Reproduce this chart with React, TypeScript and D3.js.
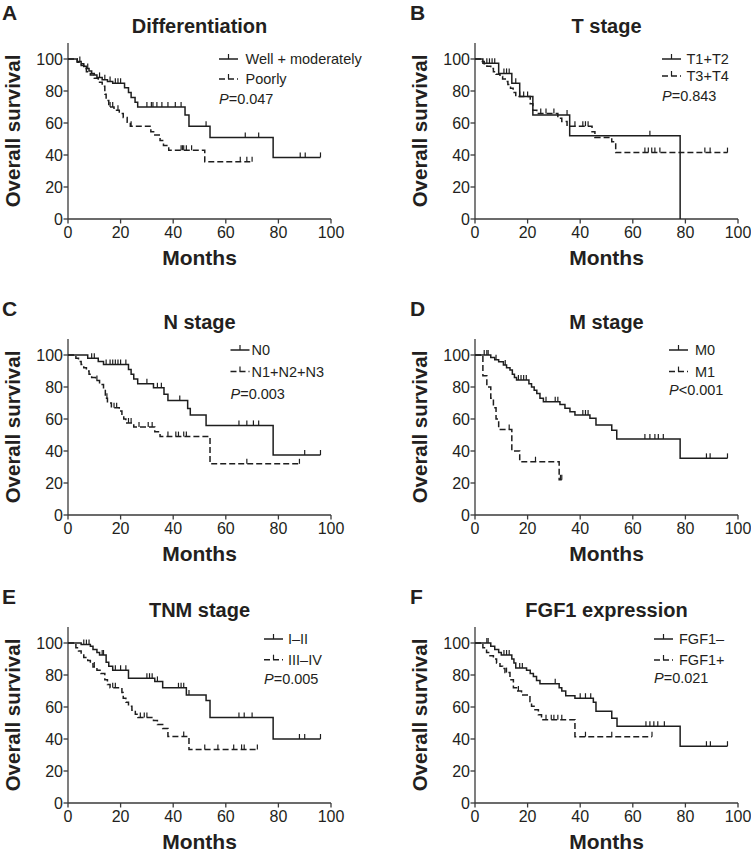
import React from 'react';
import * as d3 from 'd3';

type Step = [number, number]; // [months, survival % after the drop]

// A – Differentiation
const diffWellEvents: Step[] = [
    [3.5, 98.5], [5, 97], [6, 95.5], [7, 94], [8, 92.5], [9, 91], [10, 90], [11, 88.5],
    [13, 87], [15, 86], [17, 84.8], [21.5, 82], [23, 79], [24, 76], [25.5, 73], [26.5, 70],
    [44.5, 65], [46, 58], [54, 51], [78, 38.5],
];
const diffWellCensored = [4.5, 7.5, 12, 14, 16, 18, 19, 20, 30, 31.7, 32.3, 33.8, 35.7, 38, 40.8, 43, 52.5, 67.4, 72.5, 88.3, 90.2, 96];
const diffPoorEvents: Step[] = [
    [3.5, 98], [5, 96], [6, 94], [7, 92], [8.5, 90], [10, 88], [11.5, 85.5], [13, 83],
    [14, 78], [14.5, 74], [15.5, 70], [17.5, 68], [19.5, 66], [21, 63.5], [22.5, 60.5], [23.7, 58],
    [31.5, 54.6], [33, 52.5], [35, 49], [36.3, 46], [38.3, 43], [52, 35.8],
];
const diffPoorCensored = [16, 17, 19, 24, 43, 43.5, 44, 45, 47, 65.5, 68, 70];

// B – T stage
const tLowEvents: Step[] = [[3, 97.3], [9, 91], [14, 84.8], [17, 76.5], [22, 65], [36, 52], [78, 0]];
const tLowCensored = [4.5, 5.5, 6.5, 7.5, 11, 12, 13, 15.5, 35, 66.5];
const tHighEvents: Step[] = [
    [2.5, 98.5], [3.5, 97], [4.5, 95.5], [6, 94], [7, 92], [8, 90.5], [9.5, 89], [10.5, 87.5],
    [11.5, 86], [12.5, 84], [13.5, 81.7], [14.5, 79], [15.5, 76.5], [21, 72], [22, 68], [23.5, 66],
    [31.5, 63], [33, 61], [35, 58], [44.5, 54.6], [45.6, 51], [52, 48.3], [53.5, 41.5],
];
const tHighCensored = [17, 18.5, 20, 25, 27, 30, 38, 41, 42, 43, 64.6, 65.9, 67.2, 68.4, 70.3, 87.4, 89.4, 96];

// C – N stage
const n0Events: Step[] = [
    [7.5, 98], [11.5, 96], [13.5, 94], [23, 91], [24, 88], [25, 85], [26.5, 82], [32.5, 79.5],
    [36.5, 75.5], [38, 71.5], [45.5, 66.5], [46.5, 62.5], [52.5, 56], [78, 37.5],
];
const n0Censored = [9, 10, 14.5, 16, 17, 18, 19, 20, 22, 30, 34, 35.5, 42.5, 65, 68, 70.5, 72.5, 90, 96];
const nPosEvents: Step[] = [
    [3, 98], [4, 96], [5, 94], [6, 92], [7, 90], [8, 88], [9, 86], [10.5, 84], [12, 81.5],
    [13.5, 79], [14.2, 73], [15, 70], [16.5, 67], [19.5, 65], [20.5, 62], [21.2, 60], [22, 57.5],
    [25, 55], [33, 52], [35, 49], [54, 32],
];
const nPosCensored = [11, 14.8, 17.5, 18.5, 23, 24, 27, 30.5, 32, 38, 41, 42, 44, 45, 68, 88];

// D – M stage
const m0Events: Step[] = [
    [6, 98.5], [7.5, 97], [9, 95.8], [10.8, 93.75], [12, 92], [13.3, 90.6], [14.2, 88], [15, 86],
    [15.8, 84.4], [20.5, 82], [21.5, 80], [22.5, 78], [23.5, 76], [24.7, 73], [26, 70.8],
    [32.3, 69], [34.2, 66.7], [36.1, 64.6], [38, 62.5], [43.7, 60.4], [46, 56.25], [52, 53],
    [53.9, 47.5], [78, 35.4],
];
const m0Censored = [3.5, 4.5, 5, 8, 11.5, 16.5, 17.5, 18.5, 19.5, 27, 30.5, 31.5, 41, 42, 43, 64.6, 66.5, 68.4, 69.7, 71.6, 88, 89.4, 96];
const m1Events: Step[] = [[3, 87], [4.5, 80], [6, 73], [7, 67], [8, 60], [9, 53.5], [14, 40], [17, 33.3], [32, 22]];
const m1Censored = [13, 23, 32.5, 33];

// E – TNM stage
const tnmEarlyEvents: Step[] = [
    [5, 99], [8.5, 98], [9.5, 96], [11, 94], [12, 92.5], [14.5, 88], [15.5, 85.5], [17, 83],
    [23, 78], [33, 76], [36, 72], [45, 67.5], [52.5, 64], [54, 53.5], [78, 40],
];
const tnmEarlyCensored = [6, 7, 8, 13, 13.5, 18, 20, 22, 30, 31, 32, 34, 42, 43, 44, 46, 65, 67, 70, 88, 90, 96];
const tnmLateEvents: Step[] = [
    [3, 97], [4, 95], [5, 93], [6, 91], [7.5, 89], [8.5, 87], [9.5, 85], [11, 83], [12.5, 81],
    [14, 77], [15, 74], [16, 72], [20.5, 69], [21, 65.5], [22, 63], [23, 60.5], [24.3, 58],
    [25.6, 55.5], [26.6, 53.5], [32.5, 51.5], [34, 49], [36, 46.5], [38, 41.5], [46, 33.5],
];
const tnmLateCensored = [10, 17, 18, 27.5, 29, 30, 44, 52, 57, 63, 66, 67, 72];

// F – FGF1 expression
const fgfNegEvents: Step[] = [
    [6, 98], [7.5, 96], [9, 94], [10, 92.5], [14, 90], [14.8, 87.5], [15.5, 84.4], [19.6, 83],
    [21, 81], [22.2, 79], [23.4, 76.5], [24.7, 74.5], [32, 72], [33, 70], [34.5, 67], [38, 65.5],
    [45, 63], [46, 57.3], [52, 53], [54, 47.9], [78, 35.5],
];
const fgfNegCensored = [4.5, 5, 11, 12, 13, 17, 18, 30.5, 40, 42, 44, 65, 66.5, 68, 69.5, 72, 88, 89.5, 96];
const fgfPosEvents: Step[] = [
    [3, 97], [4.4, 94], [5.7, 92], [7, 90], [8.2, 87.5], [9.5, 85.5], [10.5, 84], [11.4, 81.5],
    [13.3, 77], [14.6, 72], [15.8, 70], [17.7, 67.5], [20.9, 63.5], [21.5, 60.5], [22.8, 58.3],
    [24.1, 55.2], [25.3, 52], [38, 41.4],
];
const fgfPosCensored = [12, 16.5, 27, 29, 30, 31.5, 33, 42, 52, 67.3];

const xTicks = [0, 20, 40, 60, 80, 100];
const yTicks = [0, 20, 40, 60, 80, 100];

const FONT = "'Liberation Sans', Arial, Helvetica, sans-serif";
const INK = '#231f20';
const colX = [68, 475];
const rowY = [219, 515, 803];
const letterX = [2, 410];
const plotW = 263;
const plotH = 160; // 0..100

interface Series { name: string; events: Step[]; censored: number[]; dashed: boolean; }
interface PanelCfg {
    letter: string; title: string; col: number; row: number; p: string;
    series: Series[];
    legend: { dx: number; textDx: number; rows: number[]; pDy: number };
}

const panels: PanelCfg[] = [
    {
        letter: 'A', title: 'Differentiation', col: 0, row: 0, p: '=0.047',
        series: [
            { name: 'Well + moderately', events: diffWellEvents, censored: diffWellCensored, dashed: false },
            { name: 'Poorly', events: diffPoorEvents, censored: diffPoorCensored, dashed: true },
        ],
        legend: { dx: 151, textDx: 26.5, rows: [0, 20], pDy: 45 },
    },
    {
        letter: 'B', title: 'T stage', col: 1, row: 0, p: '=0.843',
        series: [
            { name: 'T1+T2', events: tLowEvents, censored: tLowCensored, dashed: false },
            { name: 'T3+T4', events: tHighEvents, censored: tHighCensored, dashed: true },
        ],
        legend: { dx: 187, textDx: 24.5, rows: [0, 17], pDy: 41.5 },
    },
    {
        letter: 'C', title: 'N stage', col: 0, row: 1, p: '=0.003',
        series: [
            { name: 'N0', events: n0Events, censored: n0Censored, dashed: false },
            { name: 'N1+N2+N3', events: nPosEvents, censored: nPosCensored, dashed: true },
        ],
        legend: { dx: 162.5, textDx: 21, rows: [-5, 16.6], pDy: 44.3 },
    },
    {
        letter: 'D', title: 'M stage', col: 1, row: 1, p: '<0.001',
        series: [
            { name: 'M0', events: m0Events, censored: m0Censored, dashed: false },
            { name: 'M1', events: m1Events, censored: m1Censored, dashed: true },
        ],
        legend: { dx: 194, textDx: 26, rows: [-5, 16.6], pDy: 39.7 },
    },
    {
        letter: 'E', title: 'TNM stage', col: 0, row: 2, p: '=0.005',
        series: [
            { name: 'I–II', events: tnmEarlyEvents, censored: tnmEarlyCensored, dashed: false },
            { name: 'III–IV', events: tnmLateEvents, censored: tnmLateCensored, dashed: true },
        ],
        legend: { dx: 196, textDx: 24, rows: [-4, 16.7], pDy: 41 },
    },
    {
        letter: 'F', title: 'FGF1 expression', col: 1, row: 2, p: '=0.021',
        series: [
            { name: 'FGF1–', events: fgfNegEvents, censored: fgfNegCensored, dashed: false },
            { name: 'FGF1+', events: fgfPosEvents, censored: fgfPosCensored, dashed: true },
        ],
        legend: { dx: 179, textDx: 25, rows: [-4, 17], pDy: 40 },
    },
];

const survAt = (events: Step[], t: number) => {
    let s = 100;
    for (const [et, es] of events) if (et <= t) s = es;
    return s;
};

const Panel: React.FC<{ cfg: PanelCfg }> = ({ cfg }) => {
    const x0 = colX[cfg.col];
    const y0 = rowY[cfg.row];
    const x = d3.scaleLinear().domain([0, 100]).range([x0, x0 + plotW]);
    const y = d3.scaleLinear().domain([0, 100]).range([y0, y0 - plotH]);
    const line = d3.line<Step>().x(d => x(d[0])).y(d => y(d[1])).curve(d3.curveStepAfter);
    const midX = (x(0) + x(100)) / 2;
    const midY = (y(0) + y(110)) / 2;
    const lg = cfg.legend;

    return (
        <g>
            <text x={letterX[cfg.col]} y={y(100) - 39.5} fontSize={21} fontWeight="bold" fill={INK}>{cfg.letter}</text>
            <text x={midX} y={y(100) - 26} fontSize={20} fontWeight="bold" textAnchor="middle" fill={INK}>{cfg.title}</text>

            {/* axes */}
            <g stroke="#3a3a3a" strokeWidth={1.3} fill="none">
                <line x1={x(0)} x2={x(0)} y1={y(0)} y2={y(110)} />
                <line x1={x(0)} x2={x(100)} y1={y(0)} y2={y(0)} />
                {yTicks.map(t => <line key={'y' + t} x1={x(0) - 4.5} x2={x(0)} y1={y(t)} y2={y(t)} />)}
                {xTicks.map(t => <line key={'x' + t} x1={x(t)} x2={x(t)} y1={y(0)} y2={y(0) + 4.5} />)}
            </g>
            {yTicks.map(t => (
                <text key={'yl' + t} x={x(0) - 5} y={y(t) + 5.8} fontSize={16} textAnchor="end" fill={INK}>{t}</text>
            ))}
            {xTicks.map(t => (
                <text key={'xl' + t} x={x(t)} y={y(0) + 19} fontSize={16} textAnchor="middle" fill={INK}>{t}</text>
            ))}
            <text transform={`translate(${x(0) - 48.5},${midY}) rotate(-90)`} fontSize={20.5} fontWeight="bold" textAnchor="middle" fill={INK}>Overall survival</text>
            <text x={midX} y={y(0) + 45.5} fontSize={21} fontWeight="bold" textAnchor="middle" fill={INK}>Months</text>

            {/* curves */}
            {cfg.series.map(s => {
                const last = s.events[s.events.length - 1];
                const end = Math.max(last[0], ...s.censored);
                const pts: Step[] = [[0, 100], ...s.events, [end, last[1]]];
                return (
                    <g key={s.name} stroke="#1e1e1e" strokeWidth={1.5} fill="none">
                        <path d={line(pts) || ''} strokeDasharray={s.dashed ? '6,3' : undefined} />
                        {s.censored.map((c, i) => {
                            const cy = y(survAt(s.events, c));
                            return <line key={i} x1={x(c)} x2={x(c)} y1={cy} y2={cy - 5} strokeWidth={1.2} />;
                        })}
                    </g>
                );
            })}

            {/* legend */}
            {cfg.series.map((s, i) => {
                const ly = y(100) + lg.rows[i];
                const lx = x0 + lg.dx;
                return (
                    <g key={'lg' + i}>
                        <g stroke="#1e1e1e" strokeWidth={1.5}>
                            <line x1={lx} x2={lx + 19} y1={ly} y2={ly} strokeDasharray={s.dashed ? '6,3' : undefined} />
                            <line x1={lx + 9.5} x2={lx + 9.5} y1={ly} y2={ly - 5} strokeWidth={1.2} />
                        </g>
                        <text x={lx + lg.textDx} y={ly + 5.2} fontSize={14.5} fill={INK}>{s.name}</text>
                    </g>
                );
            })}
            <text x={x0 + lg.dx} y={y(100) + lg.pDy} fontSize={14.5} fill={INK}>
                <tspan fontStyle="italic">P</tspan>{cfg.p}
            </text>
        </g>
    );
};

export default function App() {
    return (
        <svg width={751} height={853} style={{ position: 'absolute', left: 0, top: 0, background: '#fff' }} fontFamily={FONT}>
            <rect width={751} height={853} fill="#fff" />
            {panels.map(p => <Panel key={p.letter} cfg={p} />)}
        </svg>
    );
}
